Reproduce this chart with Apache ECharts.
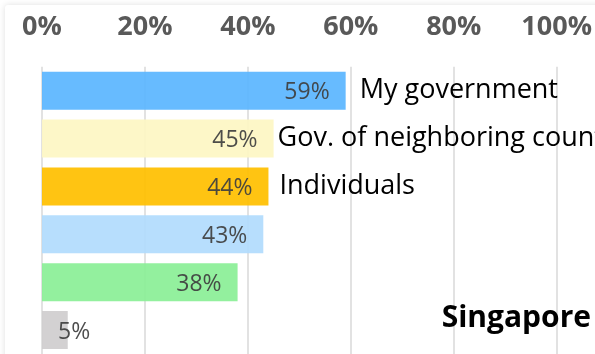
<!DOCTYPE html>
<html>
<head>
<meta charset="utf-8">
<script src="https://cdn.jsdelivr.net/npm/echarts@6/dist/echarts.min.js"></script>
<style>
html,body{margin:0;padding:0;background:#fff;}
#c{width:595px;height:354px;}
</style>
</head>
<body>
<div id="c"></div>
<script>
var categories = ["My government", "Gov. of neighboring countries", "Individuals", "", "", ""];
var values = [59, 45, 44, 43, 38, 5];
var barColors = ["#5bb6ff", "#fdf6c4", "#ffc000", "#b1dbfd", "#8bef97", "#d0cecf"];
var tickValues = [0, 20, 40, 60, 80, 100];
var nameGaps = [14, 4, 11, 8, 8, 8];
var title = "Singapore";

var FONT = "'Open Sans', 'Noto Sans', sans-serif";
var chart = echarts.init(document.getElementById('c'), null, {renderer: 'canvas'});

var valueData = values.map(function (v, i) {
  return {
    value: v,
    itemStyle: {color: barColors[i], opacity: 0.93},
    label: v < 10 ? {position: 'insideLeft', distance: 16} : {position: 'insideRight', distance: 16}
  };
});
var nameData = values.map(function (v, i) {
  return {value: v, label: {distance: nameGaps[i]}};
});

chart.setOption({
  backgroundColor: '#ffffff',
  animation: false,
  graphic: [{
    type: 'rect', z: -10,
    shape: {x: 5, y: 5, width: 640, height: 420, r: 3},
    style: {fill: '#ffffff', shadowBlur: 6, shadowColor: 'rgba(0,0,0,0.13)'}
  }],
  title: {
    text: title, right: -1, top: 298,
    textStyle: {fontFamily: FONT, fontWeight: 'bold', fontSize: 30, color: '#000'}
  },
  grid: {left: 42, right: 34.3, top: 66.7, height: 291.6, containLabel: false},
  xAxis: {
    type: 'value', position: 'top', min: 0, max: 100, interval: 20,
    axisLine: {show: false}, axisTick: {show: false},
    axisLabel: {
      margin: 26, fontFamily: FONT, fontWeight: 'bold', fontSize: 27, color: '#595959',
      formatter: function (v) { return tickValues.indexOf(v) >= 0 ? v + '%' : ''; }
    },
    splitLine: {lineStyle: {color: '#d8d8d8', width: 1.5}}
  },
  yAxis: {
    type: 'category', data: categories, inverse: true, show: false
  },
  series: [{
    type: 'bar', data: valueData, barWidth: 38, z: 2,
    label: {
      show: true, fontFamily: FONT, fontSize: 23, color: '#404040', offset: [0, 2],
      formatter: function (p) { return p.value + '%'; }
    }
  }, {
    type: 'bar', data: nameData, barWidth: 38, barGap: '-100%', z: 1,
    itemStyle: {color: 'rgba(0,0,0,0)'},
    label: {
      show: true, position: 'right', fontFamily: FONT, fontSize: 27, color: '#000',
      formatter: function (p) { return categories[p.dataIndex]; }
    }
  }]
});
</script>
</body>
</html>
